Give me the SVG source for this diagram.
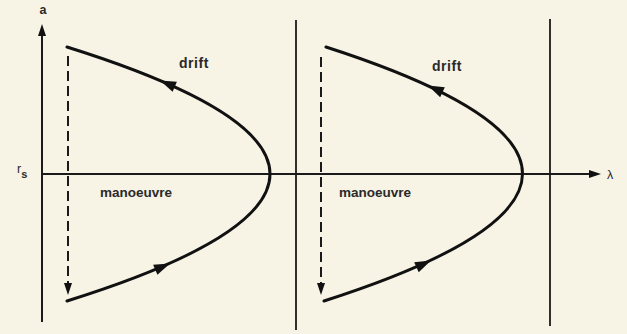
<svg xmlns="http://www.w3.org/2000/svg" width="627" height="334" viewBox="0 0 627 334">
<style>
.ax{stroke:#1a1a1a;stroke-width:2;fill:none}
.vl{stroke:#1a1a1a;stroke-width:1.8;fill:none}
.cv{stroke:#111;stroke-width:3;fill:none;stroke-linecap:round}
.ds{stroke:#1a1a1a;stroke-width:2;fill:none;stroke-dasharray:10 5}
.hd{fill:#111}
text{font-family:"Liberation Sans",Arial,sans-serif;fill:#2a2a2a}
.lb{font-size:12.5px}
.dr{font-size:14px;font-weight:bold;letter-spacing:0.6px}
.mn{font-size:13.5px;font-weight:bold}
</style>
<defs>
<polygon id="arr" points="0,0 -16,-5.5 -16,5.5"/>
<polygon id="sarr" points="0,0 -12,-4 -12,4"/>
</defs>
<rect width="627" height="334" fill="#f7f3e5"/>
<g id="axes">
<line class="ax" x1="42" y1="322" x2="42" y2="36"/>
<use href="#sarr" class="hd" transform="translate(42,24) rotate(-90)"/>
<line class="ax" x1="42" y1="174" x2="590" y2="174"/>
<use href="#sarr" class="hd" transform="translate(601,174)"/>
<text x="43" y="14" text-anchor="middle" class="lb" font-weight="bold">a</text>
<text x="607" y="179" class="lb" font-size="13">λ</text>
<text x="17" y="173" class="lb">r<tspan font-size="11" font-weight="bold" dy="5">s</tspan></text>
</g>
<g id="boundaries">
<line class="vl" x1="296" y1="20" x2="296" y2="330"/>
<line class="vl" x1="550" y1="19" x2="550" y2="326"/>
</g>
<g id="cycle1">
<path class="cv" d="M67,47 Q473,174 67,301"/>
<use href="#arr" class="hd" transform="translate(160,80.5) rotate(202.9)"/>
<use href="#arr" class="hd" transform="translate(170,263.5) rotate(-23.2)"/>
<line class="ds" x1="68" y1="56" x2="68" y2="284"/>
<use href="#sarr" class="hd" transform="translate(68,295) rotate(90)"/>
<text x="194" y="68" text-anchor="middle" class="dr">drift</text>
<text x="136" y="197" text-anchor="middle" class="mn">manoeuvre</text>
</g>
<g id="cycle2">
<path class="cv" d="M326,47 Q720,174 324,301"/>
<use href="#arr" class="hd" transform="translate(428,85.5) rotate(205.1)"/>
<use href="#arr" class="hd" transform="translate(431,260.5) rotate(-24.5)"/>
<line class="ds" x1="321" y1="57" x2="321" y2="284"/>
<use href="#sarr" class="hd" transform="translate(321,295) rotate(90)"/>
<text x="447" y="71" text-anchor="middle" class="dr">drift</text>
<text x="375" y="197" text-anchor="middle" class="mn">manoeuvre</text>
</g>
</svg>
